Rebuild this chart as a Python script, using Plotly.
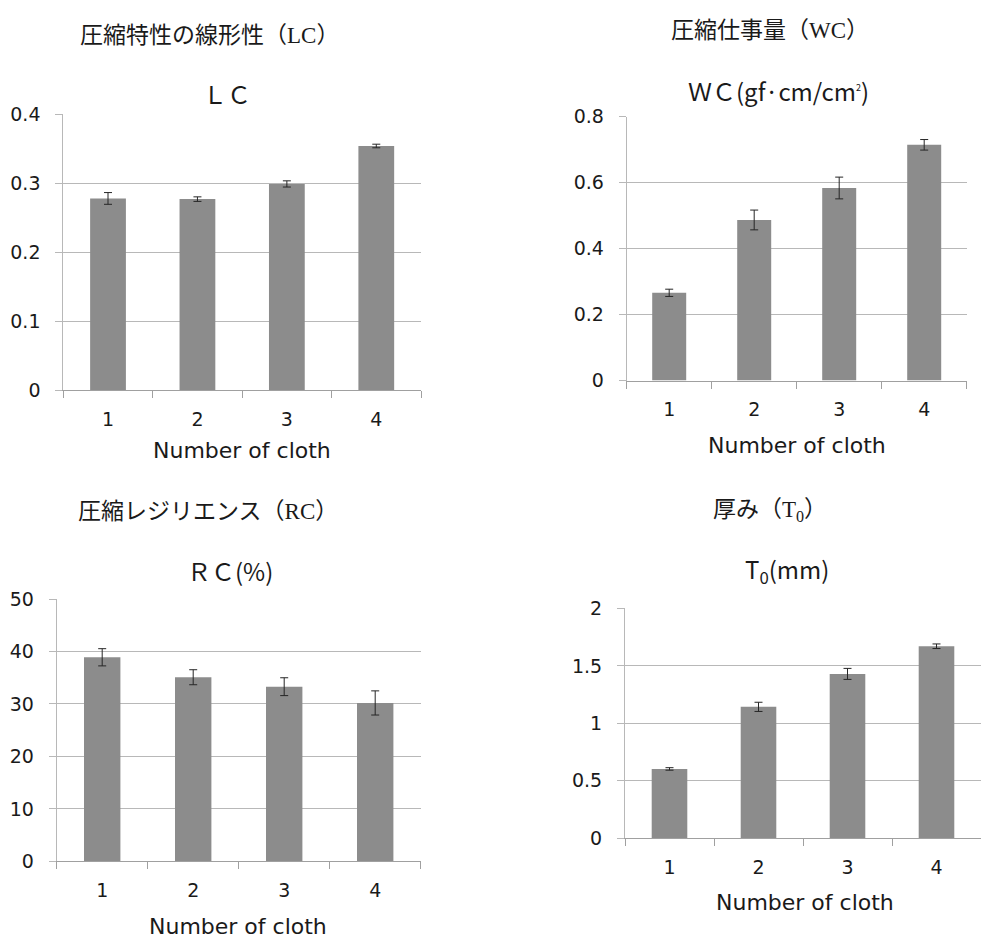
import plotly.graph_objects as go

W, H = 981, 947

# Cloth count categories shared by every panel
cloth = ["1", "2", "3", "4"]

# Linearity of compression (LC)
lc_mean = [0.278, 0.277, 0.299, 0.354]
lc_err = [0.0085, 0.0033, 0.0045, 0.0026]

# Compression work (WC, gf·cm/cm²)
wc_mean = [0.266, 0.487, 0.584, 0.715]
wc_err = [0.011, 0.030, 0.033, 0.016]

# Compression resilience (RC, %)
rc_mean = [38.9, 35.1, 33.3, 30.2]
rc_err = [1.64, 1.43, 1.70, 2.30]

# Thickness (T0, mm)
t0_mean = [0.602, 1.143, 1.430, 1.671]
t0_err = [0.011, 0.040, 0.048, 0.020]

# y-axis ticks for each panel
lc_ticks = [0, 0.1, 0.2, 0.3, 0.4]
wc_ticks = [0, 0.2, 0.4, 0.6, 0.8]
rc_ticks = [0, 10, 20, 30, 40, 50]
t0_ticks = [0, 0.5, 1, 1.5, 2]

BAR = "#8c8c8c"
GRID = "#b8b8b8"
AXIS = "#a0a0a0"
TXT = "#1a1a1a"
TICK_FONT = dict(family="DejaVu Sans, Verdana, sans-serif", size=19, color=TXT)
HEAD_FONT = dict(family="Liberation Serif, Noto Sans CJK JP, serif", size=23, color=TXT)
TITLE_FONT = dict(family="Noto Sans CJK JP, sans-serif", size=24, color=TXT)
XT_FONT = dict(family="DejaVu Sans, Verdana, sans-serif", size=22, color=TXT)


def px_x(x):
    return x / W


def px_y(y):
    return 1 - y / H


panels = [
    dict(mean=lc_mean, err=lc_err, ticks=lc_ticks, xd=(63.3, 421.0), yd=(105.7, 388.3),
         head="圧縮特性の線形性（LC）", head_xy=(209, 25),
         title="ＬＣ", title_xy=(227, 84),
         xtitle_xy=(242, 450)),
    dict(mean=wc_mean, err=wc_err, ticks=wc_ticks, xd=(626.7, 966.7), yd=(108.3, 378.3),
         head="圧縮仕事量（WC）", head_xy=(770, 20),
         title="ＷＣ(gf·cm/cm<sup><span style='font-size:9px'>2</span></sup>)", title_xy=(778, 81),
         xtitle_xy=(797, 445)),
    dict(mean=rc_mean, err=rc_err, ticks=rc_ticks, xd=(56.7, 420.7), yd=(602.0, 870.7),
         head="圧縮レジリエンス（RC）", head_xy=(208, 512),
         title="ＲＣ(%)", title_xy=(230, 573),
         xtitle_xy=(238, 937)),
    dict(mean=t0_mean, err=t0_err, ticks=t0_ticks, xd=(625.0, 981.0), yd=(611.7, 846.7),
         head="厚み（T<sub>0</sub>）", head_xy=(770, 512),
         title="T<sub>0</sub>(mm)", title_xy=(787, 572),
         xtitle_xy=(805, 913)),
]

fig = go.Figure()
annotations = []

for i, p in enumerate(panels, start=1):
    xa = "x" if i == 1 else f"x{i}"
    ya = "y" if i == 1 else f"y{i}"
    fig.add_trace(go.Bar(
        x=cloth, y=p["mean"], width=0.4,
        marker=dict(color=BAR, line=dict(width=0)),
        error_y=dict(type="data", array=p["err"], visible=True,
                     color="#262626", thickness=1, width=4),
        xaxis=xa, yaxis=ya, showlegend=False, hoverinfo="y",
    ))
    xkey = "xaxis" if i == 1 else f"xaxis{i}"
    ykey = "yaxis" if i == 1 else f"yaxis{i}"
    fig.update_layout({
        xkey: dict(
            domain=[px_x(p["xd"][0]), min(1.0, px_x(p["xd"][1]))],
            anchor=ya, type="category", tickson="boundaries",
            ticks="outside", ticklen=7, tickcolor=AXIS, tickwidth=1,
            showline=True, linecolor=AXIS, linewidth=1,
            showgrid=False, zeroline=False, tickfont=TICK_FONT,
            ticklabelstandoff=12, fixedrange=True,
        ),
        ykey: dict(
            domain=[px_y(p["yd"][1]), px_y(p["yd"][0])],
            anchor=xa, range=[p["ticks"][0], p["ticks"][-1]],
            tickvals=p["ticks"], ticktext=[f"{t:g}" for t in p["ticks"]],
            ticks="outside", ticklen=7, tickcolor=GRID, tickwidth=1,
            showline=True, linecolor=GRID, linewidth=1,
            showgrid=True, gridcolor=GRID, gridwidth=1, zeroline=False,
            tickfont=TICK_FONT, ticklabelstandoff=11, fixedrange=True,
        ),
    })
    hx, hy = p["head_xy"]
    annotations.append(dict(text=p["head"], x=px_x(hx), y=px_y(hy), xref="paper", yref="paper",
                            showarrow=False, font=HEAD_FONT, xanchor="center", yanchor="middle"))
    tx, ty = p["title_xy"]
    annotations.append(dict(text=p["title"], x=px_x(tx), y=px_y(ty), xref="paper", yref="paper",
                            showarrow=False, font=TITLE_FONT, xanchor="center", yanchor="middle"))
    ax, ay = p["xtitle_xy"]
    annotations.append(dict(text="Number of cloth", x=px_x(ax), y=px_y(ay), xref="paper", yref="paper",
                            showarrow=False, font=XT_FONT, xanchor="center", yanchor="middle"))

fig.update_layout(
    width=W, height=H, margin=dict(l=0, r=0, t=0, b=0),
    paper_bgcolor="white", plot_bgcolor="white",
    annotations=annotations, bargap=0.6,
)

fig.write_html("out.html", config={"displayModeBar": False})
